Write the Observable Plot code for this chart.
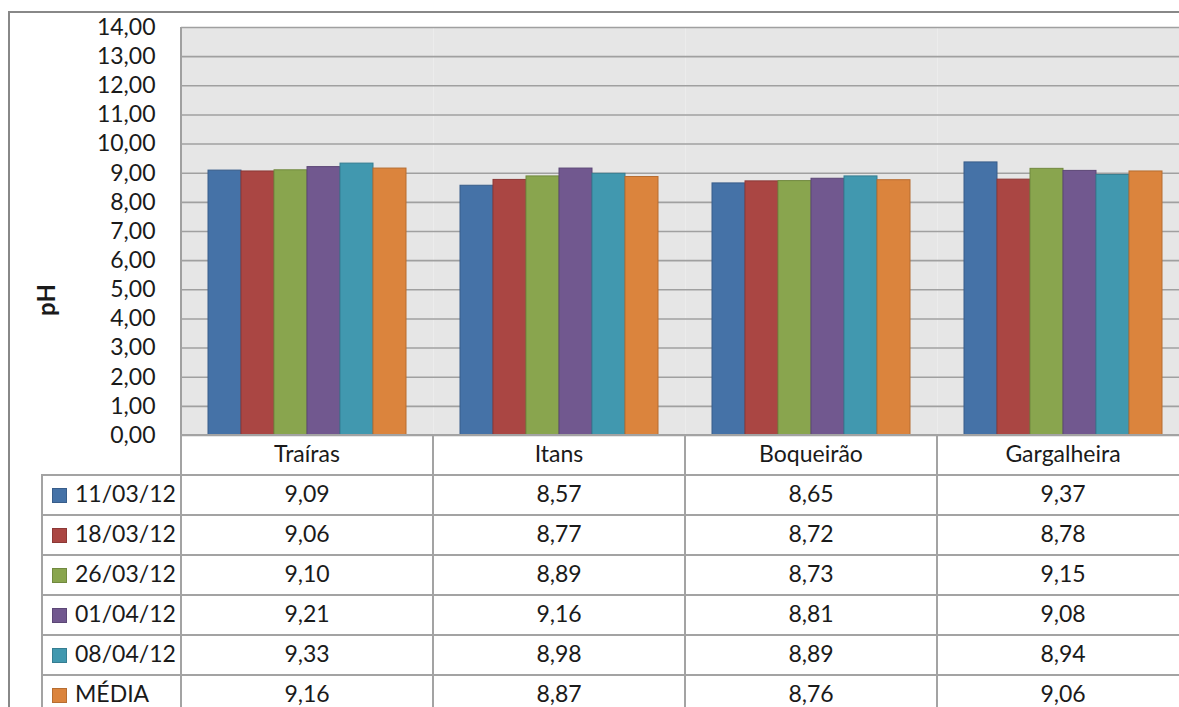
<!DOCTYPE html>
<html>
<head>
<meta charset="utf-8">
<script src="https://cdn.jsdelivr.net/npm/d3@7"></script>
<script src="https://cdn.jsdelivr.net/npm/@observablehq/plot@0.6"></script>
<style>
  html, body { margin: 0; padding: 0; background: #fff; overflow: hidden; }
  #wrap { position: relative; width: 1179px; height: 707px; overflow: hidden; font-family: Lato, "Liberation Sans", sans-serif; color: #1a1a1a; }
  #outer { position: absolute; left: 8px; top: 11px; width: 1400px; height: 900px; border: 2px solid #888; box-sizing: border-box; }
  #chart { position: absolute; left: 0; top: 0; width: 1200px; }
  #chart svg { max-width: none !important; width: 1200px; height: 707px; }
  #vline { position: absolute; left: 180px; top: 27px; width: 2px; height: 700px; background: #a0a0a0; }
  #ylabel { position: absolute; left: 45px; top: 300px; transform: translate(-50%, -50%) rotate(-90deg); font-weight: bold; font-size: 24px; white-space: nowrap; }
  table { position: absolute; left: 41px; top: 434px; width: 1149px; border-collapse: collapse; table-layout: fixed; font-size: 23px; }
  td { border: 2px solid #a3a3a3; height: 38px; padding: 0 0 4px 0; text-align: center; vertical-align: middle; white-space: nowrap; box-sizing: border-box; }
  tr { height: 40px; }
  td.blank { border: none; border-bottom: 2px solid #a3a3a3; }
  td.leg { text-align: left; padding-left: 9px; }
  .sw { display: inline-block; width: 13px; height: 13px; margin-right: 8px; vertical-align: -1px; border: 1px solid; }
</style>
</head>
<body>
<div id="wrap">
  <div id="outer"></div>
  <div id="chart"></div>
  <div id="vline"></div>
  <div id="ylabel">pH</div>
</div>
<script>
const sites = ["Traíras", "Itans", "Boqueirão", "Gargalheira"];
const seriesNames = ["11/03/12", "18/03/12", "26/03/12", "01/04/12", "08/04/12", "MÉDIA"];
const s110312 = [9.09, 8.57, 8.65, 9.37];
const s180312 = [9.06, 8.77, 8.72, 8.78];
const s260312 = [9.10, 8.89, 8.73, 9.15];
const s010412 = [9.21, 9.16, 8.81, 9.08];
const s080412 = [9.33, 8.98, 8.89, 8.94];
const sMedia  = [9.16, 8.87, 8.76, 9.06];
const seriesValues = [s110312, s180312, s260312, s010412, s080412, sMedia];
const fills   = ["#4572A7", "#AA4643", "#89A54E", "#71588F", "#4198AF", "#DB843D"];
const strokes = ["#385D8A", "#8C3836", "#71893F", "#5C4776", "#357D91", "#B66D31"];
const yTicks = [0, 1, 2, 3, 4, 5, 6, 7, 8, 9, 10, 11, 12, 13, 14];

const fmt = v => v.toFixed(2).replace(".", ",");

const rows = [];
seriesNames.forEach((s, i) => {
  sites.forEach((site, j) => {
    rows.push({site, series: s, value: seriesValues[i][j], fill: fills[i], stroke: strokes[i]});
  });
});

const chart = Plot.plot({
  width: 1200,
  height: 707,
  marginLeft: 181,
  marginRight: 11,
  marginTop: 27,
  marginBottom: 272,
  fx: {domain: sites, padding: 0, axis: null},
  x: {domain: seriesNames, paddingInner: 0, paddingOuter: 0.74, axis: null},
  y: {domain: [0, 14], axis: null},
  color: {type: "identity"},
  style: {fontFamily: "Lato, 'Liberation Sans', sans-serif", color: "#1a1a1a", background: "transparent", overflow: "visible", maxWidth: "none"},
  marks: [
    Plot.frame({fill: "#e6e6e6"}),
    Plot.ruleY(yTicks, {stroke: "#a0a0a0", strokeWidth: 1.6}),
    Plot.axisY(yTicks, {tickSize: 0, tickPadding: 26, tickFormat: fmt, fontSize: 23, label: null, fill: "#1a1a1a"}),
    Plot.barY(rows, {fx: "site", x: "series", y: "value", fill: "fill", stroke: "stroke", strokeWidth: 1})
  ]
});
document.getElementById("chart").appendChild(chart);

// data table below the chart
const table = document.createElement("table");
const colgroup = document.createElement("colgroup");
[139, 252, 252, 252, 252].forEach(w => {
  const c = document.createElement("col");
  c.style.width = w + "px";
  colgroup.appendChild(c);
});
table.appendChild(colgroup);
const head = document.createElement("tr");
const blank = document.createElement("td");
blank.className = "blank";
head.appendChild(blank);
sites.forEach(s => {
  const td = document.createElement("td");
  td.textContent = s;
  head.appendChild(td);
});
table.appendChild(head);
seriesNames.forEach((s, i) => {
  const tr = document.createElement("tr");
  const leg = document.createElement("td");
  leg.className = "leg";
  const sw = document.createElement("span");
  sw.className = "sw";
  sw.style.background = fills[i];
  sw.style.borderColor = strokes[i];
  leg.appendChild(sw);
  leg.appendChild(document.createTextNode(s));
  tr.appendChild(leg);
  seriesValues[i].forEach(v => {
    const td = document.createElement("td");
    td.textContent = fmt(v);
    tr.appendChild(td);
  });
  table.appendChild(tr);
});
document.getElementById("wrap").appendChild(table);
</script>
</body>
</html>
